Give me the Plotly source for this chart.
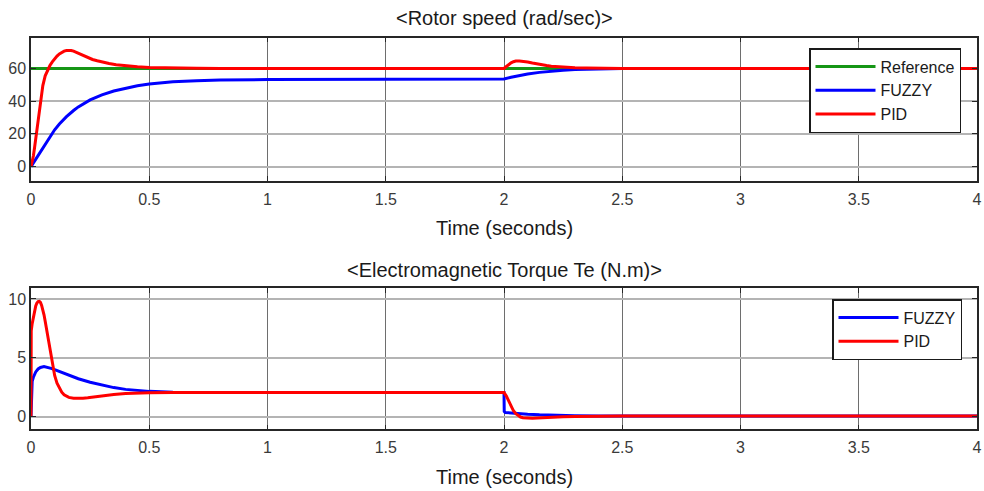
import plotly.graph_objects as go

# ---- Rotor speed (rad/sec) ----
t_ref = [0.0, 4.0]
speed_ref = [60, 60]

t_speed_pid = [0.0, 0.005, 0.01, 0.015, 0.02, 0.025, 0.03, 0.035, 0.04, 0.045, 0.05, 0.06, 0.07,
               0.08, 0.09, 0.1, 0.11, 0.12, 0.13, 0.14, 0.15, 0.16, 0.17, 0.18, 0.19, 0.2, 0.22,
               0.24, 0.26, 0.28, 0.3, 0.33, 0.36, 0.4, 0.45, 0.5, 0.6, 0.7, 0.8, 1.0, 1.5, 2.0,
               2.01, 2.02, 2.03, 2.04, 2.05, 2.065, 2.08, 2.1, 2.12, 2.14, 2.16, 2.18, 2.2, 2.25,
               2.3, 2.35, 2.4, 2.5, 3.0, 4.0]
speed_pid = [0.0, 2.5, 6.5, 11.5, 17.0, 23.0, 29.0, 35.0, 40.7, 45.5, 49.5, 55.5, 59.0,
             61.8, 64.0, 66.0, 67.6, 68.9, 69.9, 70.6, 71.0, 71.1, 71.0, 70.6, 70.0, 69.3, 67.9,
             66.6, 65.5, 64.7, 63.9, 63.0, 62.3, 61.6, 61.0, 60.6, 60.2, 60.1, 60.0, 60.0, 60.0, 60.0,
             61.2, 62.4, 63.4, 64.1, 64.5, 64.6, 64.4, 63.9, 63.3, 62.7, 62.2, 61.8, 61.4, 60.8,
             60.45, 60.25, 60.1, 60.0, 60.0, 60.0]

t_speed_fuzzy = [0.0, 0.01, 0.02, 0.03, 0.05, 0.08, 0.1, 0.12, 0.15, 0.18, 0.2, 0.25, 0.3, 0.35,
                 0.4, 0.45, 0.5, 0.6, 0.7, 0.8, 1.0, 1.3, 1.6, 2.0, 2.03, 2.06, 2.1, 2.15, 2.2,
                 2.25, 2.3, 2.35, 2.4, 2.5, 2.6, 3.0, 4.0]
speed_fuzzy = [0.0, 2.2, 4.5, 6.8, 11.5, 18.3, 22.5, 26.0, 30.5, 34.3, 36.5, 40.8, 43.8, 46.2,
               48.0, 49.4, 50.5, 51.8, 52.5, 52.9, 53.2, 53.4, 53.5, 53.6, 54.6, 55.6, 56.6, 57.6, 58.4,
               58.9, 59.3, 59.55, 59.7, 59.9, 60.0, 60.0, 60.0]

# ---- Electromagnetic torque Te (N.m) ----
t_te_pid = [0.0, 0.001, 0.005, 0.01, 0.015, 0.02, 0.025, 0.03, 0.035, 0.04, 0.045, 0.05, 0.055,
            0.06, 0.065, 0.07, 0.075, 0.08, 0.085, 0.09, 0.095, 0.1, 0.11, 0.12, 0.13, 0.14,
            0.15, 0.16, 0.18, 0.2, 0.22, 0.24, 0.26, 0.28, 0.3, 0.35, 0.4, 0.45, 0.5, 0.6, 1.0,
            2.0, 2.01, 2.02, 2.03, 2.04, 2.05, 2.06, 2.07, 2.08, 2.1, 2.12, 2.14, 2.17, 2.2,
            2.25, 2.3, 2.4, 2.5, 3.0, 4.0]
te_pid = [0.0, 7.3, 7.9, 8.5, 9.0, 9.4, 9.65, 9.78, 9.8, 9.7, 9.45, 9.1, 8.65,
          8.1, 7.5, 6.9, 6.25, 5.6, 5.0, 4.45, 3.95, 3.5, 2.85, 2.4, 2.08, 1.86,
          1.72, 1.64, 1.57, 1.55, 1.56, 1.6, 1.66, 1.72, 1.78, 1.89, 1.97, 2.01, 2.03, 2.05, 2.05,
          2.05, 1.75, 1.3, 0.85, 0.5, 0.25, 0.08, -0.03, -0.09, -0.13, -0.13, -0.11, -0.07, -0.04,
          0.0, 0.02, 0.04, 0.05, 0.05, 0.05]

t_te_fuzzy = [0.0, 0.002, 0.005, 0.01, 0.02, 0.03, 0.04, 0.055, 0.07, 0.085, 0.1, 0.125, 0.15,
              0.175, 0.2, 0.25, 0.3, 0.35, 0.4, 0.45, 0.5, 0.6, 0.7, 1.0, 2.0, 2.001, 2.005,
              2.02, 2.05, 2.1, 2.15, 2.2, 2.3, 2.4, 2.5, 3.0, 4.0]
te_fuzzy = [0.0, 2.5, 3.0, 3.35, 3.8, 4.05, 4.18, 4.25, 4.2, 4.1, 4.0, 3.8, 3.6,
            3.4, 3.22, 2.92, 2.67, 2.47, 2.32, 2.22, 2.15, 2.08, 2.06, 2.05, 2.05, 0.45, 0.36,
            0.33, 0.28, 0.21, 0.16, 0.12, 0.08, 0.06, 0.05, 0.05, 0.05]

x_ticks = [0, 0.5, 1, 1.5, 2, 2.5, 3, 3.5, 4]
x_tick_text = ["0", "0.5", "1", "1.5", "2", "2.5", "3", "3.5", "4"]
speed_ticks = [0, 20, 40, 60]
te_ticks = [0, 5, 10]

GREEN = "rgb(22,150,22)"
BLUE = "rgb(0,0,255)"
RED = "rgb(255,0,0)"
TEXT = "#262626"
FONT = "Liberation Sans, Arial, sans-serif"
LW = 3

fig = go.Figure()
fig.add_trace(go.Scatter(x=t_ref, y=speed_ref, name="Reference", mode="lines",
                         line=dict(color=GREEN, width=LW), xaxis="x", yaxis="y", legend="legend"))
fig.add_trace(go.Scatter(x=t_speed_fuzzy, y=speed_fuzzy, name="FUZZY", mode="lines",
                         line=dict(color=BLUE, width=LW), xaxis="x", yaxis="y", legend="legend"))
fig.add_trace(go.Scatter(x=t_speed_pid, y=speed_pid, name="PID", mode="lines",
                         line=dict(color=RED, width=LW), xaxis="x", yaxis="y", legend="legend"))
fig.add_trace(go.Scatter(x=t_te_fuzzy, y=te_fuzzy, name="FUZZY", mode="lines",
                         line=dict(color=BLUE, width=LW), xaxis="x2", yaxis="y2", legend="legend2"))
fig.add_trace(go.Scatter(x=t_te_pid, y=te_pid, name="PID", mode="lines",
                         line=dict(color=RED, width=LW), xaxis="x2", yaxis="y2", legend="legend2"))

W, H = 984, 491
x_dom = [31 / W, 977 / W]
top_dom = [1 - 181 / H, 1 - 37.7 / H]
bot_dom = [1 - 429.3 / H, 1 - 288.3 / H]
x_mid = 0.5 * (x_dom[0] + x_dom[1])

xaxis_common = dict(range=[0, 4], tickvals=x_ticks, ticktext=x_tick_text, showgrid=True,
                    gridcolor="#6e6e6e", gridwidth=1, showline=True, mirror="ticks",
                    linecolor=TEXT, linewidth=1.5, ticks="inside", ticklen=5, tickcolor=TEXT,
                    zeroline=False, automargin=False, ticklabelstandoff=3,
                    tickfont=dict(size=16, color="#3a3a3a", family=FONT))
yaxis_common = dict(showgrid=True, gridcolor="#b4b4b4", gridwidth=1.5, showline=True, mirror="ticks",
                    linecolor=TEXT, linewidth=1.5, ticks="inside", ticklen=5, tickcolor=TEXT,
                    zeroline=False, automargin=False,
                    tickfont=dict(size=16, color="#3a3a3a", family=FONT))

legend_common = dict(xanchor="left", yanchor="top", bgcolor="white",
                     bordercolor="#1a1a1a", borderwidth=1.5, itemwidth=60,
                     font=dict(size=16, color="#1a1a1a", family=FONT), tracegroupgap=0)

title_font = dict(size=20, color="#1a1a1a", family=FONT)

fig.update_layout(
    width=W, height=H,
    margin=dict(l=0, r=0, t=0, b=0),
    paper_bgcolor="white", plot_bgcolor="white",
    font=dict(family=FONT, color=TEXT),
    xaxis=dict(domain=x_dom, anchor="y", **xaxis_common),
    yaxis=dict(domain=top_dom, anchor="x", range=[-8.8, 78.8], tickvals=speed_ticks, **yaxis_common),
    xaxis2=dict(domain=x_dom, anchor="y2", **xaxis_common),
    yaxis2=dict(domain=bot_dom, anchor="x2", range=[-1.07, 10.9], tickvals=te_ticks, **yaxis_common),
    legend=dict(x=809 / W, y=1 - 48 / H, **legend_common),
    legend2=dict(x=832 / W, y=1 - 299 / H, **legend_common),
    annotations=[
        dict(text="<Rotor speed (rad/sec)>", x=x_mid, y=1 - 18 / H, xref="paper", yref="paper",
             showarrow=False, xanchor="center", yanchor="middle", font=title_font),
        dict(text="Time (seconds)", x=x_mid, y=1 - 228 / H, xref="paper", yref="paper",
             showarrow=False, xanchor="center", yanchor="middle", font=title_font),
        dict(text="<Electromagnetic Torque Te (N.m)>", x=x_mid, y=1 - 270 / H, xref="paper",
             yref="paper", showarrow=False, xanchor="center", yanchor="middle", font=title_font),
        dict(text="Time (seconds)", x=x_mid, y=1 - 477 / H, xref="paper", yref="paper",
             showarrow=False, xanchor="center", yanchor="middle", font=title_font),
    ],
)

fig.write_html("out.html")
